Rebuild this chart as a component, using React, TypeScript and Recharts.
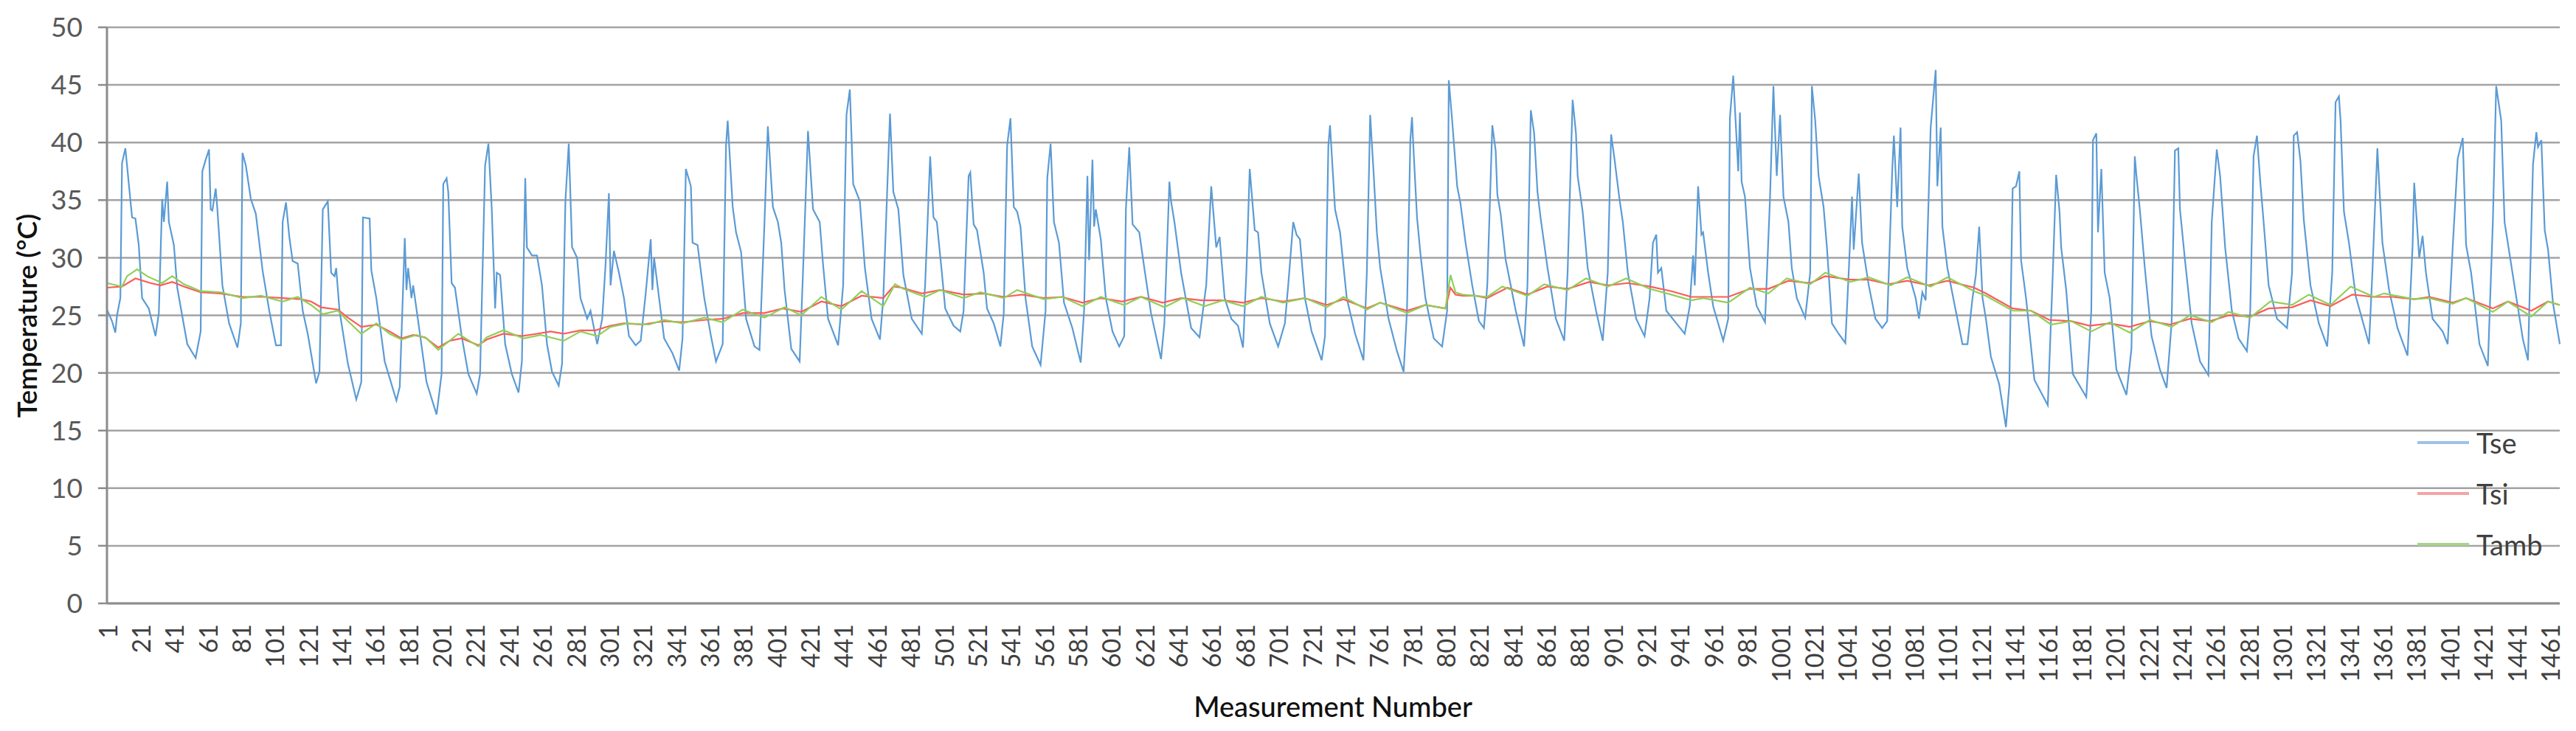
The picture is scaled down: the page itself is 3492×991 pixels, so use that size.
import React from "react";
import { LineChart, Line, XAxis, YAxis, CartesianGrid } from "recharts";

const tse: [number, number][] = [
  [1, 25.5], [4, 24.5], [6, 23.5], [7, 25.0], [9, 26.5], [10, 38.2], [12, 39.5], [13, 38.0], [16, 33.5], [18, 33.4],
  [20, 31.1], [22, 26.5], [26, 25.6], [30, 23.2], [32, 25.2], [34, 35.1], [35, 33.1], [37, 36.6], [38, 33.1], [41, 31.1],
  [43, 27.4], [49, 22.5], [54, 21.3], [57, 23.6], [58, 37.5], [60, 38.5], [62, 39.4], [63, 34.2], [64, 34.1], [66, 36.0],
  [67, 34.2], [70, 27.6], [74, 24.3], [79, 22.2], [81, 24.3], [82, 39.1], [84, 38.0], [87, 35.1], [90, 33.8], [94, 28.9],
  [98, 25.4], [102, 22.4], [105, 22.4], [106, 33.1], [108, 34.8], [110, 31.8], [112, 29.7], [115, 29.5], [118, 25.4], [121, 23.4],
  [126, 19.1], [128, 20.1], [130, 34.2], [133, 34.9], [135, 28.7], [137, 28.4], [138, 29.1], [140, 25.4], [145, 20.8], [150, 17.7],
  [153, 19.2], [154, 33.5], [158, 33.4], [159, 28.9], [162, 26.5], [167, 21.0], [174, 17.6], [176, 18.8], [179, 31.7], [180, 27.2],
  [181, 29.1], [183, 26.5], [184, 27.6], [187, 24.5], [192, 19.2], [198, 16.4], [201, 19.9], [202, 36.4], [204, 36.9], [205, 35.7],
  [207, 27.8], [209, 27.4], [213, 23.2], [217, 19.9], [222, 18.2], [224, 19.9], [227, 38.0], [229, 39.9], [231, 34.2], [233, 25.6],
  [234, 28.7], [236, 28.5], [239, 22.5], [243, 19.9], [247, 18.3], [249, 21.0], [251, 36.9], [252, 30.9], [255, 30.2], [258, 30.2],
  [261, 27.6], [264, 22.5], [267, 20.1], [271, 18.9], [273, 20.8], [275, 34.9], [277, 39.9], [279, 30.9], [282, 30.0], [284, 26.5],
  [288, 24.7], [290, 25.4], [294, 22.5], [297, 24.7], [299, 29.4], [301, 35.6], [302, 27.6], [304, 30.6], [307, 28.7], [310, 26.5],
  [313, 23.2], [317, 22.4], [320, 22.8], [323, 26.9], [326, 31.6], [327, 27.2], [328, 30.0], [331, 26.5], [334, 23.0], [339, 21.7],
  [343, 20.2], [345, 23.0], [347, 37.7], [350, 36.2], [351, 31.3], [354, 31.1], [358, 26.5], [362, 23.2], [365, 21.0], [369, 22.5],
  [371, 39.7], [372, 41.9], [375, 34.4], [377, 32.2], [380, 30.5], [383, 24.7], [388, 22.3], [391, 22.0], [394, 33.1], [396, 41.4],
  [399, 34.4], [402, 33.1], [404, 31.3], [406, 27.2], [410, 22.1], [415, 21.0], [417, 28.7], [420, 41.0], [423, 34.2], [427, 33.1],
  [429, 29.4], [432, 24.7], [438, 22.4], [441, 27.6], [443, 42.4], [445, 44.6], [447, 36.4], [451, 34.9], [454, 29.1], [458, 24.7],
  [463, 22.9], [465, 26.5], [469, 42.5], [471, 35.7], [474, 34.2], [477, 28.5], [482, 24.7], [488, 23.4], [490, 27.6], [493, 38.8],
  [495, 33.5], [497, 33.1], [500, 28.7], [502, 25.6], [507, 24.1], [511, 23.6], [513, 25.4], [516, 37.1], [517, 37.4], [519, 32.9],
  [521, 32.4], [525, 28.7], [527, 25.6], [531, 24.3], [535, 22.3], [537, 25.2], [539, 39.7], [541, 42.1], [543, 34.4], [545, 34.0],
  [547, 32.7], [550, 26.5], [554, 22.3], [559, 20.7], [562, 25.4], [563, 36.9], [565, 39.9], [567, 33.1], [570, 31.3], [573, 26.1],
  [578, 23.9], [583, 20.9], [585, 25.4], [587, 37.1], [588, 29.8], [590, 38.5], [591, 32.7], [592, 34.2], [595, 31.6], [598, 26.5],
  [602, 23.6], [606, 22.3], [609, 23.2], [610, 34.2], [612, 39.6], [614, 32.9], [618, 32.2], [621, 29.1], [625, 25.2], [631, 21.2],
  [633, 24.3], [636, 36.6], [637, 34.9], [639, 33.1], [643, 28.7], [649, 23.9], [654, 23.1], [658, 27.6], [661, 36.2], [664, 30.9],
  [666, 31.8], [669, 26.5], [673, 24.7], [677, 24.1], [680, 22.2], [682, 28.7], [684, 37.7], [687, 32.4], [689, 32.2], [691, 28.7],
  [696, 24.3], [701, 22.3], [705, 24.3], [707, 27.6], [710, 33.1], [712, 32.0], [714, 31.6], [717, 26.5], [721, 23.6], [727, 21.1],
  [729, 23.2], [731, 39.7], [732, 41.5], [735, 34.2], [738, 32.2], [742, 26.5], [747, 23.4], [752, 21.1], [754, 28.7], [756, 42.4],
  [758, 37.5], [760, 32.2], [762, 29.1], [767, 24.7], [772, 21.9], [776, 20.1], [778, 25.4], [780, 40.2], [781, 42.2], [782, 39.1],
  [784, 33.5], [786, 30.4], [789, 26.5], [794, 23.0], [799, 22.3], [802, 25.4], [803, 45.4], [805, 41.9], [808, 36.2], [810, 34.7],
  [813, 31.3], [817, 27.6], [821, 24.5], [824, 23.9], [826, 27.6], [829, 41.5], [831, 39.3], [832, 35.5], [834, 33.8], [837, 29.8],
  [843, 25.4], [848, 22.3], [850, 27.6], [852, 42.8], [854, 40.8], [856, 35.7], [858, 33.3], [862, 29.1], [867, 24.7], [872, 22.8],
  [874, 28.7], [877, 43.7], [879, 40.8], [880, 37.1], [883, 34.0], [886, 29.1], [891, 25.4], [895, 22.8], [898, 28.7], [900, 40.7],
  [902, 38.6], [905, 35.1], [907, 33.1], [910, 28.7], [915, 24.7], [920, 23.2], [923, 26.5], [925, 31.3], [927, 32.0], [928, 28.7],
  [930, 29.1], [933, 25.4], [939, 24.3], [944, 23.4], [947, 25.8], [949, 30.2], [950, 27.6], [952, 36.2], [954, 32.0], [955, 32.2],
  [958, 28.7], [961, 25.8], [964, 24.3], [967, 22.8], [970, 24.7], [971, 42.1], [973, 45.8], [976, 37.5], [977, 42.6], [978, 36.6],
  [980, 35.3], [983, 29.1], [987, 25.8], [992, 24.4], [995, 35.3], [997, 44.9], [999, 37.1], [1001, 42.4], [1003, 35.3], [1006, 33.1],
  [1008, 29.1], [1011, 26.5], [1016, 24.8], [1019, 28.7], [1020, 44.9], [1022, 41.9], [1024, 37.1], [1027, 34.4], [1029, 30.9], [1032, 24.3],
  [1036, 23.4], [1040, 22.6], [1042, 28.7], [1044, 35.3], [1045, 30.7], [1048, 37.3], [1050, 31.3], [1054, 27.6], [1058, 24.7], [1062, 23.9],
  [1065, 24.5], [1068, 37.5], [1069, 40.6], [1071, 34.4], [1073, 41.3], [1074, 32.7], [1077, 29.1], [1082, 26.5], [1084, 24.7], [1086, 27.0],
  [1088, 26.3], [1091, 41.3], [1094, 46.3], [1095, 36.2], [1097, 41.3], [1098, 32.7], [1101, 29.1], [1106, 25.4], [1110, 22.5], [1113, 22.5],
  [1116, 26.5], [1118, 28.5], [1120, 32.7], [1122, 26.5], [1124, 24.7], [1127, 21.4], [1132, 19.0], [1136, 15.3], [1138, 19.0], [1140, 36.0],
  [1142, 36.2], [1144, 37.5], [1145, 29.8], [1148, 26.5], [1153, 19.4], [1161, 17.2], [1164, 28.7], [1166, 37.2], [1168, 34.0], [1169, 30.9],
  [1172, 27.2], [1176, 19.9], [1184, 17.9], [1187, 25.4], [1188, 40.2], [1190, 40.8], [1191, 32.2], [1193, 37.7], [1195, 28.7], [1198, 26.5],
  [1202, 20.3], [1208, 18.1], [1211, 22.1], [1213, 38.8], [1214, 37.1], [1216, 34.2], [1219, 29.1], [1223, 23.2], [1228, 20.3], [1232, 18.7],
  [1235, 24.3], [1237, 39.3], [1239, 39.5], [1240, 34.2], [1243, 29.8], [1247, 24.3], [1252, 21.0], [1257, 19.8], [1259, 33.1], [1262, 39.4],
  [1264, 37.1], [1267, 30.9], [1271, 25.4], [1275, 23.0], [1280, 21.9], [1282, 25.4], [1284, 38.8], [1286, 40.6], [1288, 36.6], [1290, 33.1],
  [1293, 27.6], [1298, 24.7], [1304, 23.9], [1307, 28.7], [1308, 40.6], [1310, 40.9], [1312, 38.4], [1314, 33.3], [1318, 27.6], [1323, 24.3],
  [1328, 22.3], [1331, 28.7], [1333, 43.5], [1335, 44.0], [1336, 41.9], [1338, 34.0], [1341, 31.3], [1345, 26.7], [1353, 22.5], [1355, 28.7],
  [1358, 39.5], [1359, 36.6], [1361, 31.3], [1365, 27.2], [1370, 23.9], [1376, 21.5], [1379, 30.9], [1380, 36.5], [1383, 30.0], [1385, 31.9],
  [1387, 28.7], [1391, 24.7], [1397, 23.6], [1400, 22.5], [1403, 30.9], [1406, 38.6], [1409, 40.4], [1411, 31.1], [1414, 28.7], [1419, 22.5],
  [1424, 20.6], [1427, 33.1], [1429, 44.9], [1432, 41.9], [1434, 33.1], [1440, 27.5], [1445, 22.9], [1448, 21.1], [1451, 38.1], [1453, 40.9],
  [1454, 39.6], [1456, 40.2], [1458, 32.4], [1460, 30.7], [1463, 26.0], [1467, 22.5],
];

const tsi: [number, number][] = [
  [1, 27.4], [10, 27.5], [18, 28.2], [27, 27.8], [33, 27.6], [40, 27.9], [47, 27.5], [57, 27.0], [69, 26.9], [82, 26.6],
  [95, 26.6], [106, 26.5], [117, 26.4], [123, 26.2], [129, 25.7], [139, 25.5], [145, 24.8], [153, 24.0], [162, 24.2], [170, 23.6],
  [177, 23.0], [184, 23.3], [191, 23.1], [199, 22.2], [206, 22.8], [213, 23.0], [223, 22.4], [228, 22.9], [238, 23.4], [249, 23.2],
  [258, 23.4], [266, 23.6], [274, 23.4], [284, 23.7], [293, 23.7], [302, 24.1], [310, 24.3], [321, 24.2], [334, 24.5], [345, 24.4],
  [358, 24.6], [369, 24.7], [381, 25.2], [394, 25.2], [405, 25.6], [416, 25.3], [428, 26.2], [440, 25.8], [452, 26.7], [465, 26.5],
  [471, 27.5], [476, 27.4], [488, 26.9], [499, 27.2], [513, 26.8], [525, 26.9], [537, 26.6], [548, 26.8], [561, 26.5], [572, 26.6],
  [584, 26.1], [595, 26.5], [608, 26.2], [619, 26.6], [632, 26.1], [643, 26.5], [655, 26.3], [668, 26.3], [680, 26.1], [691, 26.5],
  [704, 26.2], [717, 26.5], [730, 25.9], [740, 26.4], [754, 25.6], [762, 26.1], [778, 25.4], [789, 25.9], [801, 25.6], [804, 27.4],
  [807, 26.8], [811, 26.7], [819, 26.7], [826, 26.5], [838, 27.4], [850, 26.8], [862, 27.5], [874, 27.3], [887, 27.9], [898, 27.6],
  [910, 27.8], [923, 27.5], [936, 27.1], [948, 26.6], [955, 26.6], [970, 26.6], [983, 27.3], [994, 27.3], [1006, 28.0], [1019, 27.8],
  [1028, 28.4], [1043, 28.1], [1054, 28.1], [1066, 27.7], [1077, 28.0], [1090, 27.6], [1101, 28.0], [1117, 27.4], [1124, 26.9], [1140, 25.6],
  [1151, 25.4], [1162, 24.6], [1175, 24.5], [1186, 24.1], [1198, 24.3], [1210, 24.0], [1222, 24.5], [1234, 24.2], [1246, 24.7], [1258, 24.5],
  [1269, 25.0], [1282, 24.9], [1293, 25.6], [1307, 25.7], [1318, 26.3], [1330, 25.8], [1343, 26.8], [1356, 26.6], [1367, 26.6], [1380, 26.4],
  [1389, 26.6], [1403, 26.1], [1411, 26.5], [1427, 25.6], [1436, 26.2], [1450, 25.4], [1460, 26.2], [1467, 25.9],
];

const tamb: [number, number][] = [
  [1, 27.8], [10, 27.5], [13, 28.4], [19, 29.0], [25, 28.4], [34, 27.8], [40, 28.4], [47, 27.7], [57, 27.1], [69, 27.0],
  [82, 26.5], [93, 26.7], [106, 26.2], [115, 26.6], [123, 25.9], [130, 25.1], [139, 25.4], [145, 24.5], [153, 23.4], [162, 24.3],
  [170, 23.4], [177, 22.9], [186, 23.3], [192, 23.0], [199, 22.0], [211, 23.4], [223, 22.3], [228, 23.1], [238, 23.7], [250, 23.0],
  [260, 23.3], [274, 22.8], [284, 23.6], [294, 23.2], [302, 24.0], [312, 24.3], [325, 24.2], [334, 24.6], [345, 24.3], [358, 24.8],
  [369, 24.4], [381, 25.5], [394, 24.8], [406, 25.7], [416, 25.0], [428, 26.6], [440, 25.5], [452, 27.1], [465, 25.8], [472, 27.7],
  [477, 27.3], [490, 26.6], [499, 27.2], [513, 26.5], [523, 27.0], [537, 26.5], [545, 27.2], [561, 26.4], [572, 26.6], [584, 25.8],
  [595, 26.6], [609, 25.9], [619, 26.6], [633, 25.7], [644, 26.5], [657, 25.8], [668, 26.3], [680, 25.8], [691, 26.6], [704, 26.1],
  [717, 26.5], [730, 25.7], [740, 26.6], [754, 25.5], [762, 26.1], [778, 25.2], [789, 25.9], [801, 25.6], [804, 28.5], [807, 27.0],
  [811, 26.8], [826, 26.6], [835, 27.5], [850, 26.7], [860, 27.7], [874, 27.2], [885, 28.2], [898, 27.5], [909, 28.2], [923, 27.3],
  [936, 26.8], [948, 26.3], [955, 26.5], [970, 26.1], [983, 27.4], [994, 26.9], [1005, 28.2], [1019, 27.7], [1028, 28.7], [1043, 27.9],
  [1054, 28.3], [1067, 27.6], [1077, 28.3], [1091, 27.5], [1101, 28.3], [1117, 27.1], [1124, 26.7], [1140, 25.4], [1151, 25.4], [1163, 24.2],
  [1175, 24.5], [1187, 23.6], [1198, 24.4], [1210, 23.5], [1222, 24.6], [1235, 24.0], [1246, 25.0], [1259, 24.4], [1269, 25.3], [1282, 24.8],
  [1294, 26.2], [1307, 25.9], [1317, 26.8], [1330, 25.9], [1342, 27.5], [1356, 26.6], [1362, 26.9], [1380, 26.4], [1389, 26.5], [1403, 26.0],
  [1411, 26.5], [1427, 25.3], [1436, 26.2], [1450, 24.9], [1460, 26.2], [1467, 25.9],
];

// category labels every 20 measurements: 1, 21, 41 ... 1461
const xTicks: number[] = [];
for (let m = 1; m <= 1461; m += 20) xTicks.push(m);
const yTicks = [0, 5, 10, 15, 20, 25, 30, 35, 40, 45, 50];

const SERIES = [
  { name: "Tse", color: "#5B9BD5", legend: "#9DC3E6", data: tse },
  { name: "Tsi", color: "#FF5A5A", legend: "#F4A3A3", data: tsi },
  { name: "Tamb", color: "#8FCF57", legend: "#A9D18E", data: tamb },
];

const FONT = "Lato, 'Open Sans', sans-serif";

const XTick = (props: any) => {
  const { x, y, payload } = props;
  return (
    <text
      x={x}
      y={y}
      transform={`rotate(-90 ${x} ${y})`}
      textAnchor="end"
      dominantBaseline="central"
      fontSize={34}
      fontFamily={FONT}
      fill="#404040"
    >
      {payload.value}
    </text>
  );
};

const YTitle = () => (
  <text
    x={35}
    y={428}
    transform="rotate(-90 35 428)"
    textAnchor="middle"
    dominantBaseline="central"
    fontSize={37}
    fontWeight={600}
    fontFamily={FONT}
    fill="#111"
  >
    Temperature (°C)
  </text>
);

const XTitle = () => (
  <text
    x={1807}
    y={957}
    textAnchor="middle"
    dominantBaseline="central"
    fontSize={38}
    fontWeight={500}
    fontFamily={FONT}
    fill="#111"
  >
    Measurement Number
  </text>
);

function LegendBox() {
  return (
    <div
      style={{ position: "absolute", left: 3277, top: 565, fontFamily: FONT }}
    >
      {SERIES.map((s) => (
        <div
          key={s.name}
          style={{ display: "flex", alignItems: "center", height: 69 }}
        >
          <span
            style={{
              display: "inline-block",
              width: 70,
              height: 4,
              background: s.legend,
              marginRight: 10,
            }}
          />
          <span style={{ fontSize: 38, color: "#404040", lineHeight: 1 }}>
            {s.name}
          </span>
        </div>
      ))}
    </div>
  );
}

export default function App() {
  return (
    <div
      style={{
        position: "absolute",
        left: 0,
        top: 0,
        width: 3492,
        height: 991,
        background: "#fff",
      }}
    >
      <LineChart
        width={3492}
        height={991}
        margin={{ top: 37, right: 22, bottom: 0, left: 0 }}
      >
        <CartesianGrid
          horizontal
          vertical={false}
          stroke="#a3a3a3"
          strokeWidth={2.5}
        />
        <XAxis
          dataKey="m"
          type="number"
          domain={[1, 1467]}
          ticks={xTicks}
          interval={0}
          height={173}
          tickSize={0}
          tickMargin={28}
          tickLine={false}
          axisLine={{ stroke: "#8c8c8c", strokeWidth: 3 }}
          tick={<XTick />}
          allowDuplicatedCategory={false}
          label={<XTitle />}
        />
        <YAxis
          type="number"
          domain={[0, 50]}
          ticks={yTicks}
          width={145}
          tickSize={12}
          tickMargin={21}
          tickLine={{ stroke: "#8c8c8c", strokeWidth: 2.5 }}
          axisLine={{ stroke: "#8c8c8c", strokeWidth: 3 }}
          tick={{ fontSize: 37, fill: "#595959", fontFamily: FONT }}
          label={<YTitle />}
        />
        {SERIES.map((s) => (
          <Line
            key={s.name}
            name={s.name}
            data={s.data.map(([m, v]) => ({ m, v }))}
            dataKey="v"
            type="linear"
            stroke={s.color}
            strokeWidth={2.2}
            dot={false}
            activeDot={false}
            isAnimationActive={false}
          />
        ))}
      </LineChart>
      <LegendBox />
    </div>
  );
}
